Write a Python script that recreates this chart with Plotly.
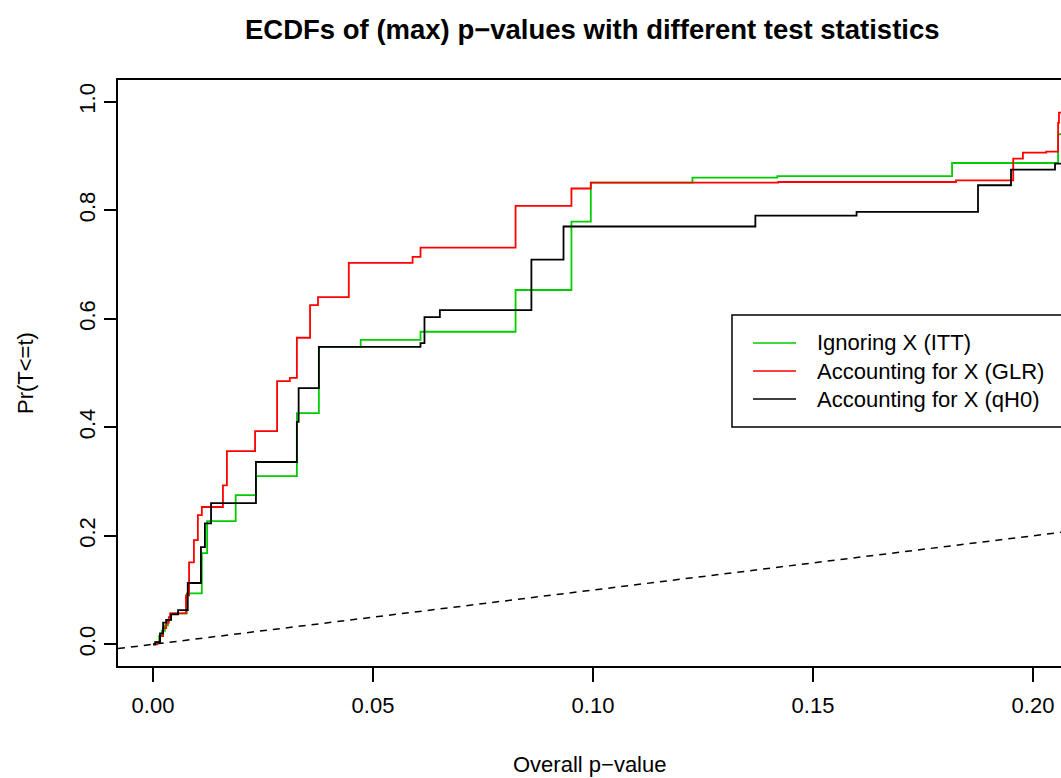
import plotly.graph_objects as go

# ---- data ----
itt_p = [0.0, 0.0007, 0.0014, 0.0020, 0.0027, 0.0034, 0.0041, 0.0077, 0.0111, 0.0123, 0.0188,
         0.0234, 0.0327, 0.0377, 0.0472, 0.0608, 0.0824, 0.0951, 0.0995, 0.1226, 0.1419,
         0.1816, 0.2057, 0.25]
itt_F = [0.0, 0.004, 0.015, 0.025, 0.035, 0.045, 0.057, 0.094, 0.168, 0.227, 0.275,
         0.310, 0.426, 0.548, 0.561, 0.576, 0.653, 0.779, 0.851, 0.860, 0.863,
         0.887, 0.940, 0.940]

glr_p = [0.0, 0.0009, 0.0016, 0.0023, 0.0030, 0.0036, 0.0039, 0.0075, 0.0082, 0.0093, 0.0102,
         0.0111, 0.0159, 0.0168, 0.0232, 0.0282, 0.0311, 0.0327, 0.0357, 0.0375, 0.0445,
         0.0590, 0.0608, 0.0824, 0.0951, 0.0995, 0.1421, 0.1825, 0.1955, 0.1977, 0.2030,
         0.2057, 0.2059, 0.25]
glr_F = [0.0, 0.004, 0.015, 0.030, 0.040, 0.050, 0.057, 0.090, 0.151, 0.192, 0.238,
         0.253, 0.293, 0.356, 0.393, 0.485, 0.491, 0.565, 0.625, 0.640, 0.703,
         0.714, 0.731, 0.808, 0.840, 0.851, 0.852, 0.855, 0.895, 0.906, 0.908,
         0.961, 0.980, 0.980]

qh0_p = [0.0, 0.0005, 0.0016, 0.0023, 0.0030, 0.0041, 0.0057, 0.0079, 0.0109, 0.0118, 0.0132,
         0.0234, 0.0327, 0.0331, 0.0377, 0.0608, 0.0617, 0.0652, 0.0860, 0.0933, 0.1369,
         0.1599, 0.1875, 0.1950, 0.2050, 0.25]
qh0_F = [0.0, 0.004, 0.020, 0.040, 0.045, 0.055, 0.063, 0.113, 0.179, 0.223, 0.260,
         0.336, 0.410, 0.472, 0.548, 0.555, 0.603, 0.616, 0.709, 0.770, 0.790,
         0.797, 0.846, 0.875, 0.886, 0.886]

series_names = ["Ignoring X (ITT)", "Accounting for X (GLR)", "Accounting for X (qH0)"]
series_colors = ["#00CD00", "#FF0000", "#000000"]

x_ticks = [0.00, 0.05, 0.10, 0.15, 0.20]
x_ticklabels = ["0.00", "0.05", "0.10", "0.15", "0.20"]
y_ticks = [0.0, 0.2, 0.4, 0.6, 0.8, 1.0]
y_ticklabels = ["0.0", "0.2", "0.4", "0.6", "0.8", "1.0"]

XR = [-0.00795, 0.20636]
YR = [-0.04, 1.04]

FONT = "Liberation Sans, Arial, Helvetica, sans-serif"

fig = go.Figure()

# reference diagonal y = x (dashed)
fig.add_trace(go.Scatter(x=XR, y=XR, mode="lines",
                         line=dict(color="black", width=1.5, dash="7px,6px"),
                         showlegend=False, hoverinfo="skip"))

for xs, ys, name, col in zip([itt_p, glr_p, qh0_p], [itt_F, glr_F, qh0_F], series_names, series_colors):
    fig.add_trace(go.Scatter(x=xs, y=ys, mode="lines", name=name,
                             line=dict(color=col, width=1.8, shape="hv"),
                             showlegend=False))

# ---- manual legend (R style) ----
lx0, lx1 = 0.6511, 1.02
ly0, ly1 = 0.4078, 0.599
fig.add_shape(type="rect", xref="paper", yref="paper", x0=lx0, x1=lx1, y0=ly0, y1=ly1,
              line=dict(color="black", width=1.5), fillcolor="white", layer="above")
row_y = [0.5513, 0.5034, 0.4556]
for ry, name, col in zip(row_y, series_names, series_colors):
    fig.add_shape(type="line", xref="paper", yref="paper", x0=0.6734, x1=0.719, y0=ry, y1=ry,
                  line=dict(color=col, width=1.5), layer="above")
    fig.add_annotation(xref="paper", yref="paper", x=0.7392, y=ry, text=name, showarrow=False,
                       xanchor="left", yanchor="middle", font=dict(family=FONT, size=22, color="black"))

# title and axis titles
fig.add_annotation(xref="paper", yref="paper", x=0.5037, y=1.086,
                   text="<b>ECDFs of (max) p\u2212values with different test statistics</b>",
                   showarrow=False, xanchor="center", yanchor="middle",
                   font=dict(family=FONT, size=27.5, color="black"))
fig.add_annotation(xref="paper", yref="paper", x=0.4995, y=-0.168, text="Overall p\u2212value",
                   showarrow=False, xanchor="center", yanchor="middle",
                   font=dict(family=FONT, size=22, color="black"))
fig.add_annotation(xref="paper", yref="paper", x=-0.0986, y=0.5, text="Pr(T<=t)", textangle=-90,
                   showarrow=False, xanchor="center", yanchor="middle",
                   font=dict(family=FONT, size=22, color="black"))

fig.update_layout(
    width=1061, height=778,
    margin=dict(l=118, r=0, t=80, b=112),
    paper_bgcolor="white", plot_bgcolor="white",
    font=dict(family=FONT, size=22, color="black"),
)
fig.update_xaxes(range=XR, tickvals=x_ticks, ticktext=x_ticklabels, showgrid=False, zeroline=False,
                 showline=True, mirror=True, linecolor="black", linewidth=1.5,
                 ticks="outside", ticklen=14, tickwidth=1.5, tickcolor="black",
                 ticklabelstandoff=5,
                 tickfont=dict(family=FONT, size=22))
fig.update_yaxes(range=YR, tickvals=y_ticks, ticktext=y_ticklabels, showgrid=False, zeroline=False,
                 showline=True, mirror=False, linecolor="black", linewidth=1.5,
                 ticks="outside", ticklen=12, tickwidth=1.5, tickcolor="black", tickangle=-90,
                 tickfont=dict(family=FONT, size=22))

fig.write_html("out.html")
